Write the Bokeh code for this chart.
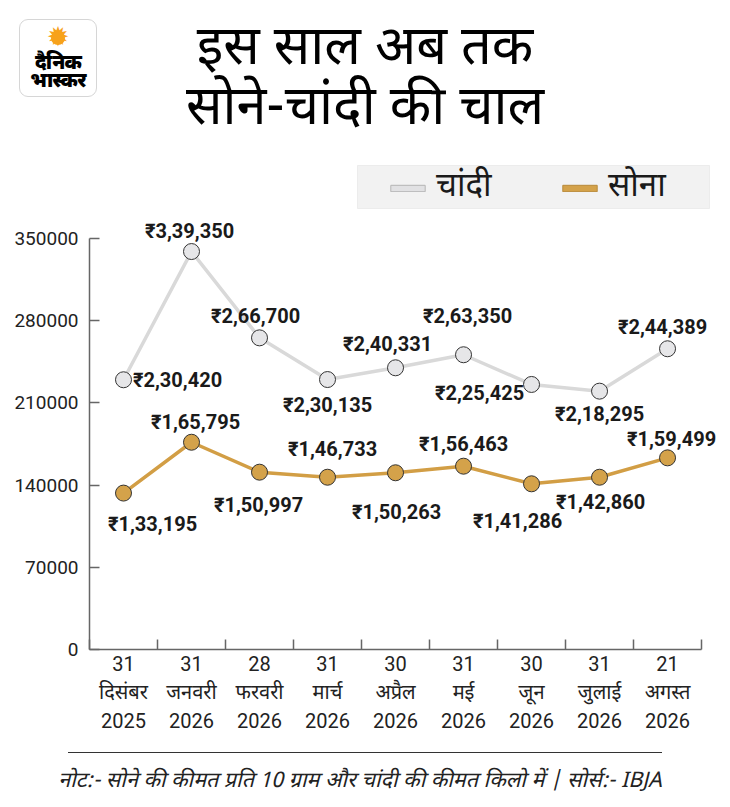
from bokeh.plotting import figure
from bokeh.layouts import column
from bokeh.models import (ColumnDataSource, Range1d, FixedTicker, Legend, LegendItem,
                          BoxAnnotation, Div)
from bokeh.core.properties import value
from bokeh.embed import file_html
from bokeh.resources import INLINE

# ---------------- data ----------------
days = ["31", "31", "28", "31", "30", "31", "30", "31", "21"]
months = ["दिसंबर", "जनवरी", "फरवरी", "मार्च", "अप्रैल", "मई", "जून", "जुलाई", "अगस्त"]
years = ["2025", "2026", "2026", "2026", "2026", "2026", "2026", "2026", "2026"]

# values as drawn in the picture
silver = [229700, 338900, 265400, 229900, 239900, 251000, 225700, 220000, 256100]
gold = [133200, 176500, 151000, 146700, 150500, 156100, 141100, 146700, 163200]

silver_labels = ["₹2,30,420", "₹3,39,350", "₹2,66,700", "₹2,30,135", "₹2,40,331",
                 "₹2,63,350", "₹2,25,425", "₹2,18,295", "₹2,44,389"]
gold_labels = ["₹1,33,195", "₹1,65,795", "₹1,50,997", "₹1,46,733", "₹1,50,263",
               "₹1,56,463", "₹1,41,286", "₹1,42,860", "₹1,59,499"]

y_ticks = [0, 70000, 140000, 210000, 280000, 350000]
y_tick_labels = ["0", "70000", "140000", "210000", "280000", "350000"]

title_lines = ["इस साल अब तक", "सोने-चांदी की चाल"]
logo_lines = ["दैनिक", "भास्कर"]
legend_names = ["चांदी", "सोना"]
footer_text = "नोट:- सोने की कीमत प्रति 10 ग्राम और चांदी की कीमत किलो में | सोर्स:- IBJA"

# ---------------- styles ----------------
NUM_FONT = "Roboto"
HI_FONT = "'Noto Sans Devanagari', 'Noto Sans', sans-serif"
AX_FONT = "'Roboto', 'Noto Sans Devanagari', sans-serif"
SILVER_LINE = "#d9d9d9"
SILVER_FILL = "#e6e6e8"
GOLD_LINE = "#d29e45"
GOLD_FILL = "#d4a24a"
TXT = "#1a1a1a"

# label offsets (px) relative to each point
silver_dx = [54, -2, -4, 0, -8, 4, -52, 0, -5]
silver_dy = [0, -21, -22, 25, -24, -39, 9, 23, -22]
gold_dx = [29, 4, -1, 5, 1, 0, -14, 1, 4]
gold_dy = [31, -20, 33, -28, 39, -22, 37, 25, -19]

W = 730
HDR_H = 160          # header block height
MAIN_H = 580         # chart block height
FTR_H = 807 - HDR_H - MAIN_H
FL, FR = 89, 716                    # frame left / right (canvas px)
FT, FB = 160, 649                   # frame top / bottom (page px)
PX_PER_UNIT = (FB - 238) / 350000   # 350000 sits at y=238 in the picture


def sx(px):
    return px - FL


def sy(py):
    return FB - py


# ---------------- header (logo + title) ----------------
def line_div(txt, left, top, width, height, style):
    return (f'<div style="position:absolute;left:{left}px;top:{top}px;width:{width}px;'
            f'height:{height}px;line-height:{height}px;overflow:visible;white-space:nowrap;'
            f'text-align:center;{style}">{txt}</div>')


logo_style = "font-weight:900;font-size:20px;letter-spacing:-0.8px;"
title_style = "font-size:54px;"
hdr_html = (
    f'<div style="position:relative;width:{W}px;height:{HDR_H}px;font-family:{HI_FONT};color:#000;">'
    '<div style="position:absolute;left:19px;top:19px;width:78px;height:78px;box-sizing:border-box;'
    'border:1px solid #d6d6d6;border-radius:9px;background:#fff;"></div>'
    '<div style="position:absolute;left:51px;top:31px;width:14px;height:14px;border-radius:50%;'
    'background:#f7a21b;"></div>'
    + line_div("&#10041;", 19, 22, 78, 30, "color:#f7a21b;font-family:'DejaVu Sans';font-size:27px;")
    + line_div(logo_lines[0], 19, 55, 78, 18, logo_style)
    + line_div(logo_lines[1], 19, 73, 78, 18, logo_style)
    + line_div(title_lines[0], 0, 21, W, 60, title_style)
    + line_div(title_lines[1], 0, 81, W, 60, title_style)
    + '</div>'
)
hdr = Div(text=hdr_html, width=W, height=HDR_H, margin=0)

# ---------------- main chart ----------------
x = list(range(len(days)))
src_s = ColumnDataSource(dict(x=x, y=silver, t=silver_labels, dx=silver_dx, dy=silver_dy))
src_g = ColumnDataSource(dict(x=x, y=gold, t=gold_labels, dx=gold_dx, dy=gold_dy))

p = figure(width=W, height=MAIN_H, x_range=Range1d(-0.5, 8.72),
           y_range=Range1d(0, (FB - FT) / PX_PER_UNIT),
           output_backend="svg", toolbar_location=None, margin=0,
           min_border_left=FL, min_border_right=W - FR, min_border_top=0,
           min_border_bottom=HDR_H + MAIN_H - FB)
p.grid.visible = False
p.outline_line_color = None

p.line("x", "y", source=src_s, line_color=SILVER_LINE, line_width=3.5)
p.scatter("x", "y", source=src_s, size=16, fill_color=SILVER_FILL, line_color="#333333", line_width=1)
p.line("x", "y", source=src_g, line_color=GOLD_LINE, line_width=3.5)
p.scatter("x", "y", source=src_g, size=16, fill_color=GOLD_FILL, line_color="#333333", line_width=1)

for src in (src_s, src_g):
    p.text("x", "y", text="t", source=src, x_offset="dx", y_offset="dy",
           text_align="center", text_baseline="middle", text_font=value(NUM_FONT),
           text_font_style="bold", text_font_size="20px", text_color=TXT)

# y axis
ya = p.yaxis[0]
ya.ticker = FixedTicker(ticks=y_ticks)
ya.major_label_overrides = {t: l for t, l in zip(y_ticks, y_tick_labels)}
ya.bounds = (0, 350000)
ya.major_tick_in = 10
ya.major_tick_out = 0
ya.minor_tick_line_color = None
ya.axis_line_color = "#666666"
ya.axis_line_width = 1.5
ya.major_tick_line_color = "#666666"
ya.major_tick_line_width = 1.5
ya.major_label_text_font = NUM_FONT
ya.major_label_text_font_size = "19px"
ya.major_label_text_color = "#222222"
ya.major_label_standoff = 11

# x axis
xa = p.xaxis[0]
xa.ticker = FixedTicker(ticks=x, minor_ticks=[i - 0.5 for i in range(len(days) + 1)])
xa.major_label_overrides = {i: f"{d}\n{m}\n{yv}" for i, (d, m, yv) in enumerate(zip(days, months, years))}
xa.bounds = (-0.5, 8.5)
xa.major_tick_in = 0
xa.major_tick_out = 0
xa.minor_tick_in = 10
xa.minor_tick_out = 0
xa.minor_tick_line_color = "#666666"
xa.minor_tick_line_width = 1.5
xa.axis_line_color = "#666666"
xa.axis_line_width = 1.5
xa.major_label_text_font = AX_FONT
xa.major_label_text_font_size = "20px"
xa.major_label_text_color = "#222222"
xa.major_label_text_line_height = 1.2
xa.major_label_standoff = 2

# ---------------- legend (inside the top of the frame) ----------------
p.add_layout(BoxAnnotation(left=sx(357), right=sx(709), top=sy(165), bottom=sy(208),
                           left_units="screen", right_units="screen",
                           top_units="screen", bottom_units="screen",
                           fill_color="#f2f2f2", fill_alpha=1, line_color="#cfcfcf",
                           line_width=1))
q1 = p.quad(left=[-5], right=[-4], top=[-5], bottom=[-6], fill_color="#e1e1e3", line_color="#b5b5b5")
q2 = p.quad(left=[-5], right=[-4], top=[-5], bottom=[-6], fill_color=GOLD_FILL, line_color="#b88a3a")
leg = Legend(items=[LegendItem(label=legend_names[0], renderers=[q1]),
                    LegendItem(label=legend_names[1], renderers=[q2])],
             orientation="horizontal", location=(sx(386), sy(209)), padding=0, margin=0,
             spacing=2, glyph_width=43, glyph_height=8, label_standoff=7,
             label_width=120, label_height=30,
             label_text_font=HI_FONT, label_text_font_size="33px", label_text_color=TXT,
             background_fill_alpha=0, border_line_color=None)
p.add_layout(leg, "center")

# ---------------- footer ----------------
ftr_html = (
    f'<div style="position:relative;width:{W}px;height:{FTR_H}px;font-family:{HI_FONT};color:#222;">'
    '<div style="position:absolute;left:68px;top:12px;width:594px;height:0;border-top:1.2px solid #333;"></div>'
    + line_div(footer_text, 0, 28, 720, 28, "font-style:italic;font-size:21.5px;")
    + '</div>'
)
ftr = Div(text=ftr_html, width=W, height=FTR_H, margin=0)

layout = column(hdr, p, ftr, spacing=0, margin=0)
open("out.html", "w").write(file_html(layout, INLINE))
